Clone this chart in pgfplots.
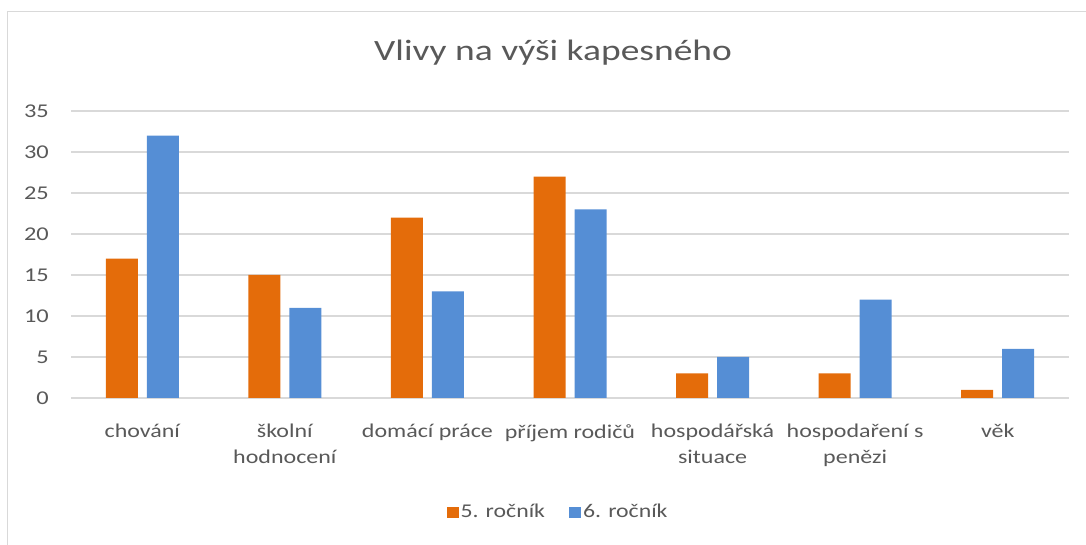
\documentclass[border=0pt]{standalone}
\usepackage{pgfplots}
\pgfplotsset{compat=1.18}
\usepackage{fontspec}
\setmainfont{Carlito}
\definecolor{txt}{HTML}{595959}
\definecolor{gridc}{HTML}{D9D9D9}
\definecolor{org}{HTML}{E46C0A}
\definecolor{blu}{HTML}{558ED5}
\begin{document}
\begin{tikzpicture}[x=1pt,y=1pt]
\path[use as bounding box] (0,0) rectangle (1086,545);
\draw[gridc, line width=1.5pt] (7.5,0) -- (7.5,533.5) -- (1086,533.5);
\begin{axis}[
  at={(71pt,147pt)}, anchor=south west,
  scale only axis, width=998pt, height=287pt,
  ybar=9pt, bar width=32pt,
  xmin=-0.5, xmax=6.5, ymin=0, ymax=35,
  xtick={0,...,6},
  xticklabels={chování, školní\\hodnocení, domácí práce, příjem rodičů, hospodářská\\situace, hospodaření s\\penězi, věk},
  ytick={0,5,...,35},
  axis line style={draw=none},
  major tick length=0pt,
  ymajorgrids, major grid style={gridc, line width=1.2pt},
  /pgf/number format/assume math mode=true,
  yticklabel style={font=\fontsize{19.5}{23}\selectfont, text=txt, anchor=east, inner sep=0pt, xshift=-22pt, xscale=1.25},
  xticklabel style={font=\fontsize{19.5}{26}\selectfont, text=txt, align=center, anchor=north, inner sep=0pt, yshift=-26pt, xscale=1.23},
  title={Vlivy na výši kapesného},
  title style={font=\fontsize{29.5}{35}\selectfont, text=txt, at={(0.483,1.155)}, anchor=base, inner sep=0pt, xscale=1.27},
  legend columns=2,
  legend style={draw=none, font=\fontsize{19.5}{23}\selectfont, text=txt, at={(0.488,-0.397)}, anchor=center, /tikz/every even column/.append style={column sep=22pt}},
  legend image code/.code={\fill[#1] (0pt,-6pt) rectangle (12pt,5pt);},
]
\addplot[fill=org, draw=none] coordinates {(0,17) (1,15) (2,22) (3,27) (4,3) (5,3) (6,1)};
\addplot[fill=blu, draw=none] coordinates {(0,32) (1,11) (2,13) (3,23) (4,5) (5,12) (6,6)};
\legend{\scalebox{1.22}[1]{5. ročník}, \scalebox{1.22}[1]{6. ročník}}
\end{axis}
\end{tikzpicture}
\end{document}
